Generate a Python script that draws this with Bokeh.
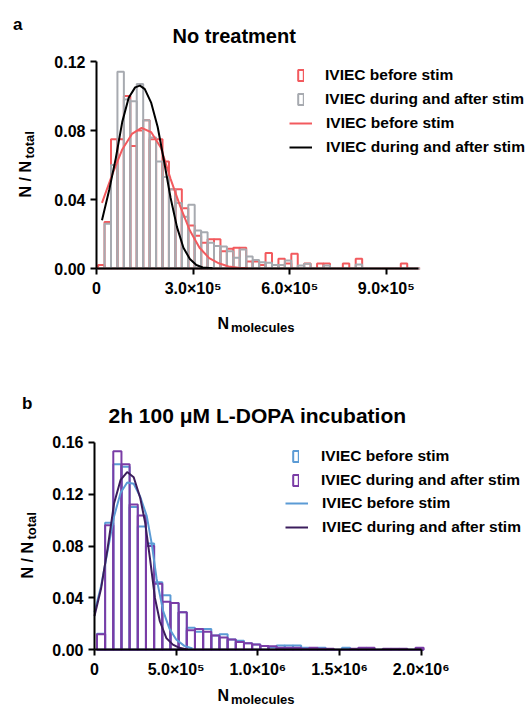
from math import pi
from bokeh.plotting import figure
from bokeh.models import Range1d, FixedTicker, Legend, LegendItem, Label
from bokeh.layouts import column
from bokeh.embed import file_html
from bokeh.resources import INLINE

FONT = "Liberation Sans"

# ---------------- Panel a: No treatment ----------------
a_title = "No treatment"
a_bin_start = 5e3
a_bin_width = 2e4
a_before = [0.002, 0.027, 0.075, 0.075, 0.100, 0.071, 0.080, 0.086, 0.075, 0.075,
            0.062, 0.046, 0.046, 0.035, 0.025, 0.019, 0.015, 0.017, 0.017, 0.010,
            0.0115, 0.012, 0.012, 0.004, 0.004, 0.002, 0.009, 0.002, 0.0057, 0.0029,
            0.0086, 0.0, 0.0029, 0.0, 0.0029, 0.0029, 0.0, 0.0, 0.0029, 0.0,
            0.0057, 0.0, 0.0, 0.0, 0.0, 0.0, 0.0, 0.0029, 0.0, 0.0]
a_after = [0.0, 0.026, 0.060, 0.114, 0.098, 0.097, 0.107, 0.086, 0.076, 0.062,
           0.053, 0.046, 0.038, 0.030, 0.037, 0.022, 0.021, 0.015, 0.013, 0.0128,
           0.010, 0.0063, 0.011, 0.007, 0.005, 0.0036, 0.0034, 0.002, 0.002, 0.0046,
           0.0, 0.0017, 0.0027, 0.0, 0.0, 0.0017, 0.0, 0.0, 0.0, 0.0,
           0.0023, 0.0, 0.0, 0.0, 0.0, 0.0, 0.0, 0.0, 0.0, 0.0]
a_fit_before_x = [1.7e4, 5e4, 8e4, 1.1e5, 1.4e5, 1.7e5, 2.0e5, 2.3e5, 2.6e5, 2.9e5,
                  3.2e5, 3.5e5, 3.8e5, 4.1e5, 4.4e5, 4.7e5]
a_fit_before_y = [0.038, 0.055, 0.069, 0.078, 0.0815, 0.079, 0.070, 0.052, 0.036, 0.022,
                  0.012, 0.006, 0.003, 0.0012, 0.0004, 0.0001]
a_fit_after_x = [1.7e4, 4e4, 6e4, 8e4, 1.0e5, 1.2e5, 1.35e5, 1.5e5, 1.7e5, 1.9e5,
                 2.1e5, 2.3e5, 2.5e5, 2.7e5, 2.9e5, 3.1e5, 3.3e5, 3.6e5]
a_fit_after_y = [0.028, 0.046, 0.064, 0.085, 0.099, 0.105, 0.106, 0.104, 0.096, 0.082,
                 0.062, 0.041, 0.024, 0.012, 0.0055, 0.002, 0.0006, 0.0001]
a_xticks = [0, 300000, 600000, 900000]
a_xtick_labels = ["0", "3.0×10⁵", "6.0×10⁵", "9.0×10⁵"]
a_yticks = [0.0, 0.04, 0.08, 0.12]
a_ytick_labels = ["0.00", "0.04", "0.08", "0.12"]

# ---------------- Panel b: 2h 100 uM L-DOPA ----------------
b_title = "2h 100 μM L-DOPA incubation"
b_bin_start = 1.5e4
b_bin_width = 5e4
b_before = [0.0123, 0.098, 0.143, 0.141, 0.110, 0.095, 0.082, 0.052, 0.042, 0.036,
            0.029, 0.017, 0.014, 0.016, 0.011, 0.012, 0.008, 0.007, 0.005, 0.004,
            0.003, 0.002, 0.0033, 0.0033, 0.0033, 0.0015, 0.0008, 0.0015, 0.0, 0.0,
            0.0015, 0.0, 0.0, 0.0008, 0.0, 0.0, 0.0, 0.0, 0.0, 0.0]
b_after = [0.012, 0.096, 0.153, 0.143, 0.112, 0.1035, 0.080, 0.051, 0.037, 0.036,
           0.029, 0.015, 0.016, 0.014, 0.011, 0.0095, 0.008, 0.006, 0.005, 0.004,
           0.003, 0.0028, 0.0015, 0.0015, 0.0015, 0.0008, 0.0015, 0.0008, 0.0008, 0.0,
           0.0, 0.0008, 0.0015, 0.0015, 0.0, 0.0008, 0.0008, 0.0008, 0.0, 0.0015]
b_fit_before_x = [0, 4e4, 8e4, 1.2e5, 1.6e5, 2.0e5, 2.4e5, 2.8e5, 3.2e5, 3.5e5,
                  3.8e5, 4.2e5, 4.6e5, 5.0e5, 5.5e5, 6.0e5]
b_fit_before_y = [0.029, 0.049, 0.076, 0.103, 0.121, 0.129, 0.128, 0.118, 0.103, 0.082,
                  0.055, 0.030, 0.016, 0.008, 0.003, 0.001]
b_fit_after_x = [0, 4e4, 8e4, 1.2e5, 1.6e5, 2.0e5, 2.4e5, 2.8e5, 3.1e5, 3.4e5,
                 3.7e5, 4.0e5, 4.4e5, 4.8e5, 5.2e5, 5.6e5]
b_fit_after_y = [0.026, 0.047, 0.078, 0.113, 0.131, 0.137, 0.133, 0.117, 0.098, 0.070,
                 0.040, 0.022, 0.009, 0.004, 0.0015, 0.0005]
b_xticks = [0, 500000, 1000000, 1500000, 2000000]
b_xtick_labels = ["0", "5.0×10⁵", "1.0×10⁶", "1.5×10⁶", "2.0×10⁶"]
b_yticks = [0.0, 0.04, 0.08, 0.12, 0.16]
b_ytick_labels = ["0.00", "0.04", "0.08", "0.12", "0.16"]

legend_before = "IVIEC before stim"
legend_after = "IVIEC during and after stim"

W = 530


def txt(p, x, y, text, size, angle=0.0):
    p.add_layout(Label(x=x, y=y, x_units="screen", y_units="screen", text=text,
                       angle=angle, text_font=FONT, text_font_style="bold",
                       text_font_size=size, text_color="black",
                       text_align="left", text_baseline="alphabetic"))


def panel(letter, title, bin_start, bin_width, before, after, fbx, fby, fax, fay,
          xticks, xlabels, yticks, ylabels, xmax, ymax, height, frame_px,
          col_before, col_after, col_fit_before, col_fit_after, lab):
    # frame_px: pixel positions (within this figure) of data (0,0) and (xmax,ymax)
    x0, y0, x1, y1 = frame_px
    sx = (x1 - x0) / xmax
    sy = (y0 - y1) / ymax
    xr = Range1d(-x0 / sx, (W - x0) / sx)
    yr = Range1d(-(height - y0) / sy, y0 / sy)
    p = figure(width=W, height=height, min_border=0, min_border_left=0,
               min_border_right=0, min_border_top=0, min_border_bottom=0,
               x_range=xr, y_range=yr,
               output_backend="svg", toolbar_location=None, title=None)
    p.outline_line_color = None
    p.xgrid.visible = False
    p.ygrid.visible = False
    p.background_fill_color = "white"
    p.border_fill_color = "white"

    lb = [bin_start + k * bin_width for k in range(len(before))]
    rb = [v + bin_width for v in lb]
    r_before = p.quad(left=lb, right=rb, top=before, bottom=0, fill_alpha=0,
                      line_color=col_before, line_width=2)
    la = [bin_start + k * bin_width for k in range(len(after))]
    ra = [v + bin_width for v in la]
    r_after = p.quad(left=la, right=ra, top=after, bottom=0, fill_alpha=0,
                     line_color=col_after, line_width=2)
    l_before = p.line(fbx, fby, line_color=col_fit_before, line_width=2)
    l_after = p.line(fax, fay, line_color=col_fit_after, line_width=2)

    p.xaxis[0].fixed_location = 0
    p.yaxis[0].fixed_location = 0
    p.xaxis[0].bounds = (0, xmax)
    p.yaxis[0].bounds = (0, ymax)
    for ax, ticks, labels in ((p.xaxis[0], xticks, xlabels), (p.yaxis[0], yticks, ylabels)):
        ax.ticker = FixedTicker(ticks=ticks, minor_ticks=[])
        ax.major_label_overrides = {t: s for t, s in zip(ticks, labels)}
        ax.axis_line_width = 2
        ax.axis_line_color = "black"
        ax.major_tick_line_width = 2
        ax.major_tick_line_color = "black"
        ax.major_tick_out = 6
        ax.major_tick_in = 0
        ax.minor_tick_out = 0
        ax.minor_tick_in = 0
        ax.major_label_text_font = FONT
        ax.major_label_text_font_style = "bold"
        ax.major_label_text_font_size = "16px"
        ax.major_label_text_color = "black"
        ax.major_label_standoff = 5

    common = dict(padding=0, margin=0, spacing=6, label_height=14, glyph_height=14,
                  border_line_color=None, background_fill_alpha=0,
                  label_text_font=FONT, label_text_font_style="bold",
                  label_text_font_size="15.5px", label_text_color="black")
    leg1 = Legend(items=[LegendItem(label=legend_before, renderers=[r_before]),
                         LegendItem(label=legend_after, renderers=[r_after])],
                  location=lab["leg1"], glyph_width=7, label_standoff=lab["std1"], **common)
    leg2 = Legend(items=[LegendItem(label=legend_before, renderers=[l_before]),
                         LegendItem(label=legend_after, renderers=[l_after])],
                  location=lab["leg2"], glyph_width=23, label_standoff=lab["std2"], **common)
    p.add_layout(leg1)
    p.add_layout(leg2)

    def put(key, text, size, dx=0.0, dy=0.0, angle=0.0):
        ax_, ay_ = lab[key]
        txt(p, ax_ + dx, height - ay_ + dy, text, size, angle)

    put("letter", letter, "17px")
    put("title", title, lab["title_size"])
    # y axis label  N / N_total (reads bottom to top)
    put("ylab", "N / N", "16px", angle=pi / 2)
    put("ylab", "total", "13px", dx=4, dy=39, angle=pi / 2)
    # x axis label  N_molecules
    put("xlab", "N", "16px")
    put("xlab", "molecules", "13px", dx=13.5, dy=-3.5)
    return p


# positions given as pixels from the top-left of each figure
pa = panel("a", a_title, a_bin_start, a_bin_width, a_before, a_after,
           a_fit_before_x, a_fit_before_y, a_fit_after_x, a_fit_after_y,
           a_xticks, a_xtick_labels, a_yticks, a_ytick_labels, 1.0e6, 0.12,
           350, (96, 268, 418, 61), "#F25A5E", "#A7AAB0", "#F25A5E", "#000000",
           dict(leg1=(297, 242), std1=21, leg2=(289, 194.3), std2=14,
                letter=(12.5, 24), title=(172, 35), title_size="20px",
                ylab=(25, 197), xlab=(217, 323)))

pb = panel("b", b_title, b_bin_start, b_bin_width, b_before, b_after,
           b_fit_before_x, b_fit_before_y, b_fit_after_x, b_fit_after_y,
           b_xticks, b_xtick_labels, b_yticks, b_ytick_labels, 2.0e6, 0.16,
           356, (94, 299.3, 420.7, 91.7), "#5B9BD5", "#7A3CA6", "#5B9BD5", "#3B1D5C",
           dict(leg1=(292, 217), std1=22, leg2=(285, 169.7), std2=14,
                letter=(21.5, 53.3), title=(108, 65), title_size="21px",
                ylab=(26.5, 228), xlab=(217, 345)))

layout = column(pa, pb, spacing=0)
open("out.html", "w").write(file_html(layout, INLINE))
